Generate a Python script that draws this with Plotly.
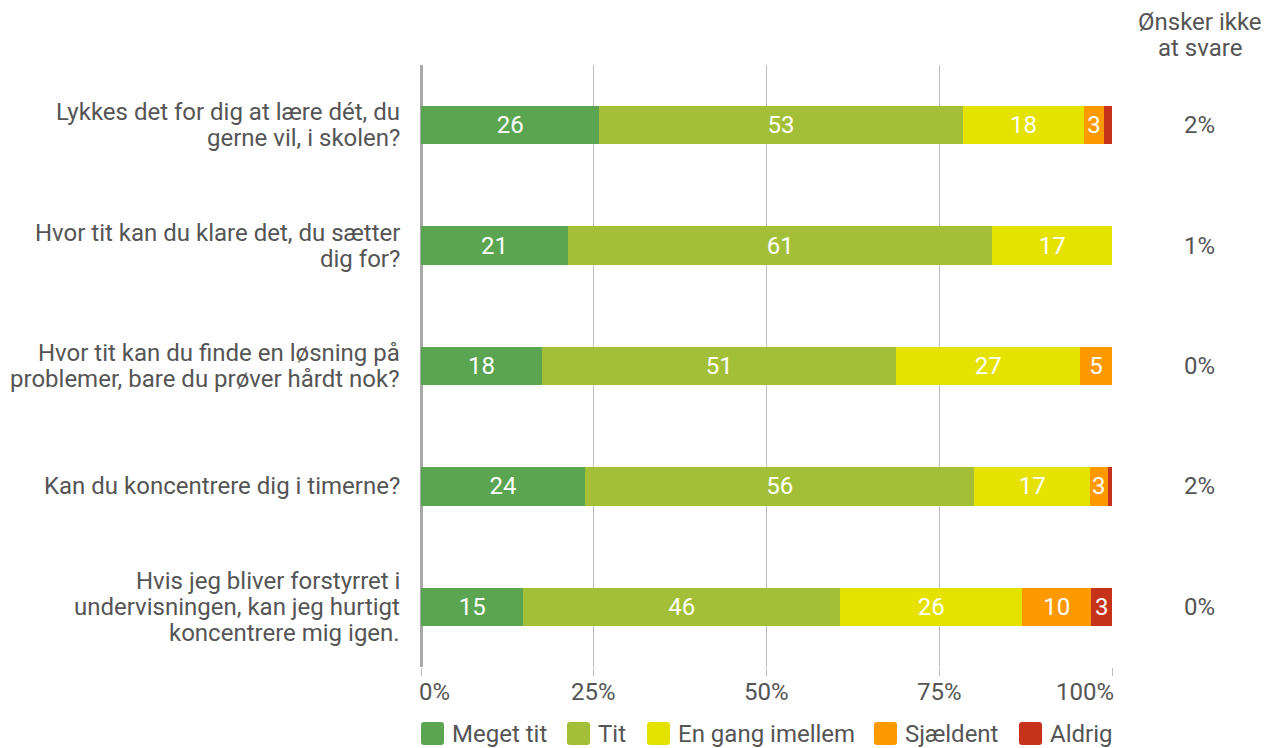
import math
import plotly.graph_objects as go

questions = [
    "Lykkes det for dig at lære dét, du<br>gerne vil, i skolen?",
    "Hvor tit kan du klare det, du sætter<br>dig for?",
    "Hvor tit kan du finde en løsning på<br>problemer, bare du prøver hårdt nok?",
    "Kan du koncentrere dig i timerne?",
    "Hvis jeg bliver forstyrret i<br>undervisningen, kan jeg hurtigt<br>koncentrere mig igen.",
]
series_names = ["Meget tit", "Tit", "En gang imellem", "Sjældent", "Aldrig"]
meget_tit = [25.8, 21.3, 17.5, 23.7, 14.8]
tit = [52.6, 61.4, 51.3, 56.4, 45.9]
en_gang = [17.6, 17.3, 26.6, 16.7, 26.3]
sjaeldent = [2.8, 0.0, 4.6, 2.6, 10.0]
aldrig = [1.2, 0.0, 0.0, 0.6, 3.0]
no_answer = ["2%", "1%", "0%", "2%", "0%"]
no_answer_header = "Ønsker ikke<br>at svare"
x_ticks = [0, 25, 50, 75, 100]
x_ticktext = ["0%", "25%", "50%", "75%", "100%"]
colors = ["#5BA552", "#A2BF37", "#E6E200", "#FF9900", "#C7321A"]

series = [meget_tit, tit, en_gang, sjaeldent, aldrig]
TXT = "#555555"
FONT = "Roboto, Arial, sans-serif"
FS = 24
LH = 26

# layout geometry (pixels on the page)
PL, PR, PT, PB = 421, 1112, 65, 667
def px_x(px):
    return (px - PL) / (PR - PL)
def px_y(py):
    return (PB - py) / (PB - PT)

fig = go.Figure()
for name, vals, col in zip(series_names, series, colors):
    labels = [str(int(math.floor(v + 0.5))) if v >= 2.5 else "" for v in vals]
    fig.add_trace(go.Bar(
        y=questions, x=vals, name=name, orientation="h",
        marker=dict(color=col, line=dict(width=0)),
        text=labels, textposition="inside", insidetextanchor="middle",
        textangle=0, textfont=dict(color="white", size=FS, family=FONT),
        hoverinfo="x+name", showlegend=False,
    ))

# category labels (tight line spacing like the reference)
for q in questions:
    lines = q.split("<br>")
    n = len(lines)
    for i, ln in enumerate(lines):
        fig.add_annotation(x=0, xref="paper", xanchor="right", xshift=-19,
                           y=q, yref="y", yshift=((n - 1) / 2 - i) * LH,
                           text=ln, showarrow=False,
                           font=dict(size=FS, color=TXT, family=FONT))

# x tick labels (first left-aligned, last right-aligned)
for k, (tv, tt) in enumerate(zip(x_ticks, x_ticktext)):
    if k == 0:
        anc, sh = "left", -4
    elif k == len(x_ticks) - 1:
        anc, sh = "right", 4
    else:
        anc, sh = "center", 0
    fig.add_annotation(x=tv, xref="x", xanchor=anc, xshift=sh,
                       y=0, yref="paper", yanchor="middle", yshift=-(692 - PB),
                       text=tt, showarrow=False,
                       font=dict(size=FS, color=TXT, family=FONT))

# "Ønsker ikke at svare" column
for q, t in zip(questions, no_answer):
    fig.add_annotation(x=1.126, xref="paper", xanchor="center", y=q, yref="y",
                       text=t, showarrow=False,
                       font=dict(size=FS, color=TXT, family=FONT))
hdr = no_answer_header.split("<br>")
for i, ln in enumerate(hdr):
    fig.add_annotation(x=1.128, xref="paper", xanchor="center",
                       y=1.0, yref="paper", yanchor="middle",
                       yshift=43 - i * LH, text=ln, showarrow=False,
                       font=dict(size=FS, color=TXT, family=FONT))

# legend (rounded squares + labels)
legend_px = [421, 567, 647, 874, 1019]
SQ, R = 23, 3
ytop, ybot = 722, 745
for lx, name, col in zip(legend_px, series_names, colors):
    x0, x1 = px_x(lx), px_x(lx + SQ)
    rx = R / (PR - PL)
    y0, y1 = px_y(ybot), px_y(ytop)
    ry = R / (PB - PT)
    path = (f"M{x0+rx},{y1} L{x1-rx},{y1} Q{x1},{y1} {x1},{y1-ry} "
            f"L{x1},{y0+ry} Q{x1},{y0} {x1-rx},{y0} L{x0+rx},{y0} "
            f"Q{x0},{y0} {x0},{y0+ry} L{x0},{y1-ry} Q{x0},{y1} {x0+rx},{y1} Z")
    fig.add_shape(type="path", path=path, xref="paper", yref="paper",
                  fillcolor=col, line=dict(width=0), layer="above")
    fig.add_annotation(x=px_x(lx + SQ + 6), xref="paper", xanchor="left",
                       y=px_y((ytop + ybot) / 2), yref="paper", yanchor="middle",
                       text=name, showarrow=False,
                       font=dict(size=FS, color=TXT, family=FONT))

fig.update_layout(
    barmode="stack", bargap=0.68,
    width=1276, height=748,
    margin=dict(l=PL - 8, r=1276 - PR + 8 - 8 * 0 - 0, t=PT - 8, b=748 - PB + 8 - 0),
    paper_bgcolor="white", plot_bgcolor="white",
    font=dict(family=FONT, size=FS, color=TXT),
    uniformtext=dict(minsize=FS, mode="show"),
    showlegend=False,
)
# keep plot area exactly 691 x 602 px
fig.update_layout(margin=dict(l=413, r=172, t=57, b=89, autoexpand=False))
fig.update_xaxes(range=[0, 100], tickvals=x_ticks, showticklabels=False,
                 showgrid=True, gridcolor="#BDBDBD", gridwidth=1,
                 zeroline=True, zerolinecolor="#A8A8A8", zerolinewidth=3,
                 ticks="outside", ticklen=8, tickcolor="#BDBDBD",
                 showline=False, automargin=False, fixedrange=True)
fig.update_yaxes(autorange="reversed", showgrid=False, ticks="",
                 showticklabels=False, showline=False, automargin=False)

fig.write_html("out.html")
